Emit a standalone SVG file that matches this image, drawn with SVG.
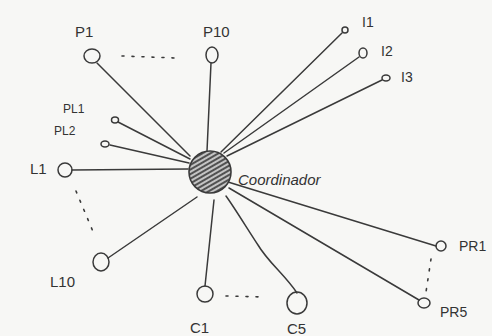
<svg xmlns="http://www.w3.org/2000/svg" width="492" height="336" viewBox="0 0 492 336">
<style>
.ln{stroke:#3a3a3a;stroke-width:1.5;fill:none;stroke-linecap:round}
.nd{stroke:#3a3a3a;stroke-width:1.5;fill:none}
.dt{stroke:#3a3a3a;stroke-width:1.6;fill:none;stroke-dasharray:2 8;stroke-linecap:round}
.t{font-family:"Liberation Sans",Arial,sans-serif;fill:#333;font-size:15px}
.ts{font-family:"Liberation Sans",Arial,sans-serif;fill:#333;font-size:12px}
.ti{font-family:"Liberation Sans",Arial,sans-serif;fill:#333;font-size:14px}
</style>
<defs>
<pattern id="hatch" patternUnits="userSpaceOnUse" width="4" height="4" patternTransform="rotate(-30)">
<rect width="4" height="4" fill="#c4c4c4"/>
<line x1="0" y1="2" x2="4" y2="2" stroke="#333" stroke-width="1.6"/>
</pattern>
</defs>
<rect width="492" height="336" fill="#f7f7f5"/>
<g id="connectors">
<line class="ln" x1="97" y1="63" x2="190" y2="156"/>
<line class="ln" x1="211" y1="63" x2="207" y2="151"/>
<line class="ln" x1="118" y1="122" x2="190" y2="159"/>
<line class="ln" x1="110" y1="145" x2="189" y2="163"/>
<line class="ln" x1="72" y1="170" x2="188" y2="169"/>
<line class="ln" x1="108" y1="258" x2="197" y2="197"/>
<line class="ln" x1="205" y1="286" x2="214" y2="200"/>
<path class="ln" d="M297 293 C 285 275 268 262 258 245 C 248 230 236 210 226 196"/>
<line class="ln" x1="228" y1="182" x2="436" y2="246"/>
<line class="ln" x1="229" y1="188" x2="419" y2="300"/>
<line class="ln" x1="342" y1="33" x2="221" y2="152"/>
<line class="ln" x1="359" y1="57" x2="224" y2="153"/>
<line class="ln" x1="382" y1="80" x2="227" y2="156"/>
<line class="dt" x1="122" y1="56" x2="176" y2="58"/>
<line class="dt" x1="76" y1="191" x2="94" y2="234"/>
<line class="dt" x1="226" y1="296" x2="264" y2="297"/>
<line class="dt" x1="431" y1="259" x2="426" y2="292"/>
</g>
<g id="coordinador">
<circle cx="210" cy="172" r="21" fill="url(#hatch)" stroke="#3a3a3a" stroke-width="1.6"/>
<text class="t" x="238" y="185" font-style="italic">Coordinador</text>
</g>
<g id="P1"><ellipse class="nd" cx="92" cy="56" rx="8" ry="7"/><text class="t" x="75" y="37">P1</text></g>
<g id="P10"><ellipse class="nd" cx="212" cy="55" rx="6" ry="8"/><text class="t" x="203" y="37">P10</text></g>
<g id="PL1"><ellipse class="nd" cx="115" cy="120" rx="3.5" ry="3"/><text class="ts" x="63" y="113">PL1</text></g>
<g id="PL2"><ellipse class="nd" cx="105" cy="144" rx="4" ry="3"/><text class="ts" x="54" y="135">PL2</text></g>
<g id="L1"><circle class="nd" cx="65" cy="170" r="7"/><text class="t" x="30" y="174">L1</text></g>
<g id="L10"><ellipse class="nd" cx="101" cy="262" rx="8" ry="9"/><text class="t" x="50" y="287">L10</text></g>
<g id="C1"><circle class="nd" cx="205" cy="294" r="8"/><text class="t" x="190" y="333">C1</text></g>
<g id="C5"><ellipse class="nd" cx="297" cy="303" rx="10" ry="11"/><text class="t" x="287" y="334">C5</text></g>
<g id="PR1"><circle class="nd" cx="441" cy="246" r="5"/><text class="ti" x="459" y="251">PR1</text></g>
<g id="PR5"><ellipse class="nd" cx="424" cy="303" rx="6" ry="5"/><text class="ti" x="440" y="317">PR5</text></g>
<g id="I1"><ellipse class="nd" cx="345" cy="30" rx="3" ry="3"/><text class="ti" x="362" y="27">I1</text></g>
<g id="I2"><ellipse class="nd" cx="363" cy="53" rx="4" ry="5"/><text class="ti" x="381" y="56">I2</text></g>
<g id="I3"><ellipse class="nd" cx="386" cy="78" rx="4" ry="3"/><text class="ti" x="401" y="82">I3</text></g>
</svg>
